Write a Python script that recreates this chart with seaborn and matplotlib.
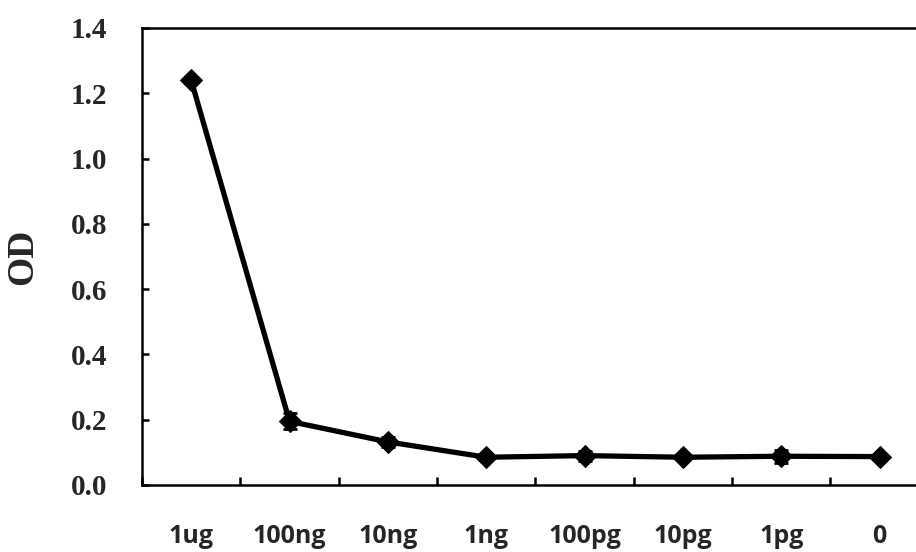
import numpy as np
import pandas as pd
import matplotlib
matplotlib.use("Agg")
import matplotlib.pyplot as plt
import seaborn as sns

# Antigen amount per well and measured optical density
doses = ["1ug", "100ng", "10ng", "1ng", "100pg", "10pg", "1pg", "0"]
od_mean = [1.24, 0.195, 0.132, 0.085, 0.090, 0.085, 0.088, 0.087]
od_err = [0.010, 0.025, 0.015, 0.008, 0.015, 0.008, 0.020, 0.005]
y_ticks = [0.0, 0.2, 0.4, 0.6, 0.8, 1.0, 1.2, 1.4]

df = pd.DataFrame({"dose": doses, "od": od_mean, "err": od_err})
df["pos"] = np.arange(len(doses))

sns.set_theme(style="white")

fig = plt.figure(figsize=(9.16, 5.52), dpi=100)
ax = fig.add_axes([0.155, 0.1214, 0.859, 0.8279])

sns.lineplot(data=df, x="pos", y="od", ax=ax, color="black", linewidth=3.8,
             marker="D", markersize=11, markeredgecolor="black", zorder=3)
ax.errorbar(df["pos"], df["od"], yerr=df["err"], fmt="none", ecolor="black",
            elinewidth=2, capsize=5, capthick=2, zorder=2)

ax.set_xlim(-0.5, len(doses) - 0.5)
ax.set_ylim(0, 1.4)

# Tick marks sit between categories; labels sit at category centres
ax.set_xticks(np.arange(len(doses) + 1) - 0.5)
ax.set_xticklabels([])
ax.set_xticks(df["pos"], minor=True)
ax.set_xticklabels(doses, minor=True, fontfamily="Open Sans",
                   fontweight="bold", fontsize=18)
ax.tick_params(axis="x", which="major", direction="in", length=6, width=1.8,
               color="black", bottom=True)
ax.tick_params(axis="x", which="minor", length=0, pad=28, bottom=True)

ax.set_yticks(y_ticks)
ax.set_yticklabels([f"{v:.1f}" for v in y_ticks], fontfamily="Liberation Serif",
                   fontweight="bold", fontsize=21)
ax.tick_params(axis="y", direction="in", length=5, width=1.8, color="black",
               pad=25, left=True)

ax.set_xlabel("")
ax.set_ylabel("OD", fontfamily="Liberation Serif", fontweight="bold", fontsize=27)
ax.yaxis.set_label_coords(-0.13, 0.5)

for side in ["left", "bottom", "top", "right"]:
    ax.spines[side].set_visible(True)
    ax.spines[side].set_color("black")
    ax.spines[side].set_linewidth(1.8)

fig.savefig("out.png", dpi=100, facecolor="white")
